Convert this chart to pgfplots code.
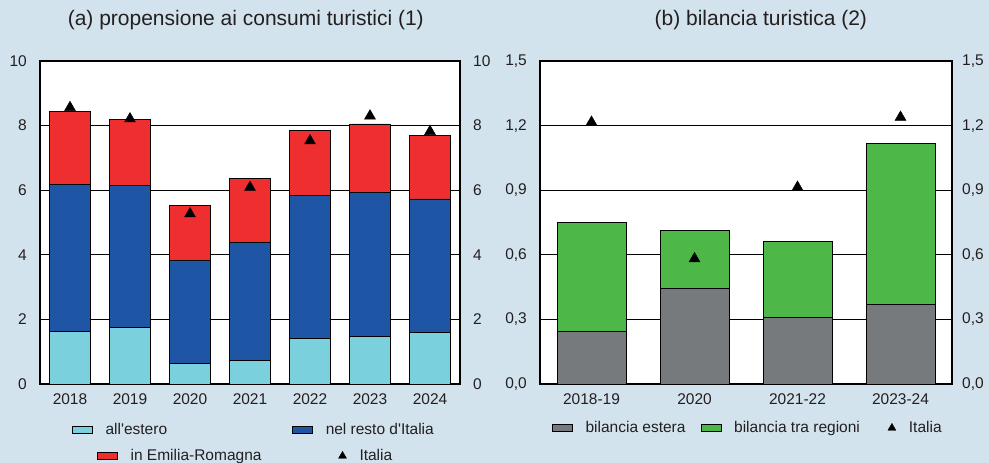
\documentclass[border=0pt]{standalone}
\usepackage{fontspec}
\setmainfont{Liberation Sans}
\usepackage{pgfplots}
\pgfplotsset{compat=1.18}
\definecolor{bg}{RGB}{211,227,237}
\definecolor{txt}{RGB}{35,31,32}
\definecolor{cEst}{RGB}{122,208,220}
\definecolor{cRes}{RGB}{30,86,165}
\definecolor{cEmr}{RGB}{238,46,47}
\definecolor{cGrey}{RGB}{119,122,124}
\definecolor{cGreen}{RGB}{77,184,72}
\newcommand{\tickfont}{\fontsize{15.5bp}{18bp}\selectfont}
\pgfplotsset{
  common/.style={
    scale only axis, height=323bp,
    anchor=south west,
    /pgf/number format/assume math mode=true,
    major tick length=0pt,
    tick style={draw=none},
    axis line style={black, line width=1.1bp},
    tick label style={font=\tickfont, color=txt},
    xticklabel style={inner sep=0pt, anchor=north, yshift=-9.5bp},
    legend style={draw=none, fill=none, inner sep=0pt, outer sep=0pt,
      font=\tickfont, text=txt, anchor=west,
      nodes={inner sep=0pt}},
    title style={anchor=base, inner sep=0pt, yshift=29.5bp,
      font=\fontsize{21bp}{25bp}\selectfont, color=txt},
  },
  mybar/.style={draw=black, line width=0.6bp,
    legend image code/.code={\draw[##1] (0bp,-3.5bp) rectangle (20bp,3.5bp);}},
  tri/.style={only marks, mark=triangle*, mark size=6.3bp, color=black,
    legend image code/.code={\draw[##1, mark size=4.6bp] plot coordinates {(4bp,0bp)};}},
}
\begin{document}
\begin{tikzpicture}
\fill[bg] (0,0) rectangle (989bp,463bp);
% ---------------- panel (a)
\begin{axis}[common, at={(40bp,79bp)}, width=420bp,
  xmin=-0.5, xmax=6.5, ymin=0, ymax=10,
  ytick={0,2,4,6,8,10},
  xtick={0,1,2,3,4,5,6},
  xticklabels={2018,2019,2020,2021,2022,2023,2024},
  ybar stacked, bar width=41bp,
  ymajorgrids, grid style={black, line width=0.7bp},
  axis background/.style={fill=white},
  yticklabel style={anchor=east, inner sep=0pt, xshift=-13bp},
  title={(a) propensione ai consumi turistici (1)},
  title style={at={(0.490,1)}},
  legend columns=2,
  legend style={at={(0.0762,-0.1424)},
    /tikz/every odd column/.append style={column sep=13bp},
    /tikz/every even column/.append style={column sep=125bp}},
]
\addplot[mybar, fill=cEst] coordinates {(0,1.64) (1,1.75) (2,0.64) (3,0.73) (4,1.41) (5,1.48) (6,1.60)};
\addlegendentry{all\textquotesingle estero}
\addplot[mybar, fill=cRes] coordinates {(0,4.55) (1,4.40) (2,3.18) (3,3.67) (4,4.43) (5,4.45) (6,4.13)};
\addlegendentry{nel resto d\textquotesingle Italia}
\addplot[mybar, fill=cEmr] coordinates {(0,2.26) (1,2.05) (2,1.72) (3,1.97) (4,2.00) (5,2.12) (6,1.96)};
\end{axis}
\begin{axis}[common, at={(40bp,79bp)}, width=420bp,
  xmin=-0.5, xmax=6.5, ymin=0, ymax=10,
  ytick={0,2,4,6,8,10},
  hide x axis, axis y line*=right,
  yticklabel style={anchor=west, inner sep=0pt, xshift=13bp},
  legend columns=2,
  legend style={at={(0.1357,-0.2229)},
    /tikz/every odd column/.append style={column sep=13bp},
    /tikz/every even column/.append style={column sep=77bp}},
]
\addlegendimage{mybar, fill=cEmr}
\addlegendentry{in Emilia-Romagna}
\addplot[tri] coordinates {(0,8.56) (1,8.21) (2,5.27) (3,6.09) (4,7.53) (5,8.30) (6,7.82)};
\addlegendentry{Italia}
\end{axis}
% ---------------- panel (b)
\begin{axis}[common, at={(540bp,79bp)}, width=412bp,
  xmin=-0.5, xmax=3.5, ymin=0, ymax=1.5,
  ytick={0,0.3,0.6,0.9,1.2,1.5},
  /pgf/number format/.cd, fixed, fixed zerofill, precision=1, use comma, /pgfplots/.cd,
  xtick={0,1,2,3},
  xticklabels={2018-19,2020,2021-22,2023-24},
  ybar stacked, bar width=69bp,
  ymajorgrids, grid style={black, line width=0.7bp},
  axis background/.style={fill=white},
  yticklabel style={anchor=east, inner sep=0pt, xshift=-13bp},
  title={(b) bilancia turistica (2)},
  title style={at={(0.536,1)}},
  legend columns=3,
  legend style={at={(0.0291,-0.1362)},
    /tikz/every odd column/.append style={column sep=13bp},
    /tikz/column 2/.append style={column sep=15bp},
    /tikz/column 4/.append style={column sep=28bp}},
]
\addplot[mybar, fill=cGrey] coordinates {(0,0.243) (1,0.443) (2,0.310) (3,0.368)};
\addlegendentry{bilancia estera}
\addplot[mybar, fill=cGreen] coordinates {(0,0.506) (1,0.271) (2,0.354) (3,0.750)};
\addlegendentry{bilancia tra regioni}
\addlegendimage{tri}
\addlegendentry{Italia}
\end{axis}
\begin{axis}[common, at={(540bp,79bp)}, width=412bp,
  xmin=-0.5, xmax=3.5, ymin=0, ymax=1.5,
  ytick={0,0.3,0.6,0.9,1.2,1.5},
  /pgf/number format/.cd, fixed, fixed zerofill, precision=1, use comma, /pgfplots/.cd,
  hide x axis, axis y line*=right,
  yticklabel style={anchor=west, inner sep=0pt, xshift=10bp},
]
\addplot[tri] coordinates {(0,1.216) (1,0.582) (2,0.914) (3,1.239)};
\end{axis}
\pgfresetboundingbox
\path[use as bounding box] (0,0) rectangle (989bp,463bp);
\end{tikzpicture}
\end{document}
